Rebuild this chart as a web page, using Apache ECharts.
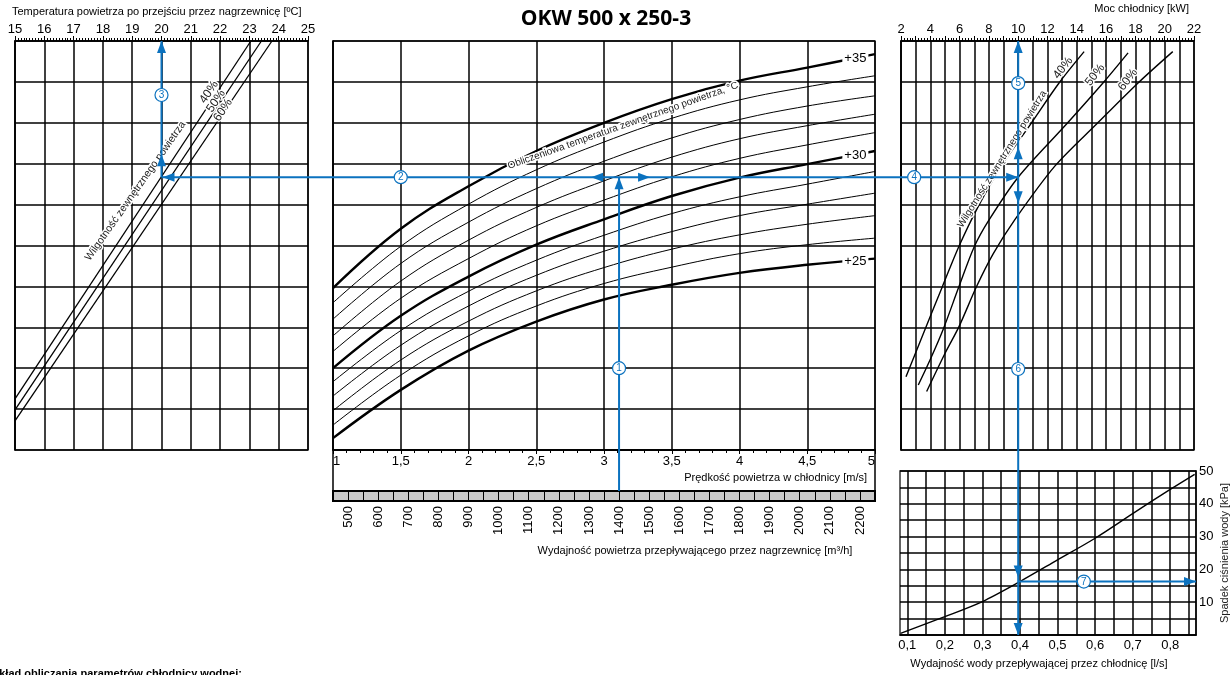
<!DOCTYPE html>
<html><head><meta charset="utf-8">
<script src="https://cdn.jsdelivr.net/npm/echarts@6/dist/echarts.min.js"></script>
<style>html,body{margin:0;padding:0;background:#fff}#c{width:1232px;height:675px}</style>
</head><body><div id="c"></div>
<script>
// ---------------- DATA ----------------
// Left panel: outlet air temperature [°C] vs chart level (0..10 = shared horizontal grid)
const hum40LeftT = [15.00, 23.05], hum40LeftL = [1.25, 10.0];
const hum50LeftT = [15.00, 23.41], hum50LeftL = [0.98, 10.0];
const hum60LeftT = [15.00, 23.77], hum60LeftL = [0.71, 10.0];

// Centre panel: air velocity [m/s] vs chart level, one curve per outside temperature
const velocity = [1, 1.5, 2, 2.5, 3, 3.5, 4, 4.5, 5];
const t25 = [0.29, 1.47, 2.43, 3.14, 3.68, 4.04, 4.33, 4.53, 4.68];
const t26 = [0.61, 1.83, 2.79, 3.52, 4.07, 4.47, 4.80, 5.02, 5.18];
const t27 = [0.96, 2.20, 3.15, 3.89, 4.46, 4.91, 5.26, 5.52, 5.73];
const t28 = [1.32, 2.56, 3.52, 4.27, 4.86, 5.34, 5.73, 6.01, 6.28];
const t29 = [1.67, 2.92, 3.88, 4.64, 5.25, 5.78, 6.19, 6.50, 6.81];
const t30 = [2.00, 3.28, 4.24, 5.02, 5.64, 6.21, 6.66, 6.99, 7.31];
const t31 = [2.41, 3.71, 4.68, 5.48, 6.11, 6.68, 7.13, 7.46, 7.76];
const t32 = [2.79, 4.13, 5.13, 5.93, 6.58, 7.16, 7.61, 7.93, 8.21];
const t33 = [3.20, 4.56, 5.57, 6.39, 7.06, 7.63, 8.08, 8.41, 8.66];
const t34 = [3.60, 4.98, 6.01, 6.85, 7.53, 8.11, 8.56, 8.88, 9.15];
const t35 = [3.96, 5.41, 6.45, 7.31, 8.00, 8.58, 9.03, 9.35, 9.68];
const endLabels = ['+25', '+30', '+35'];
const endLabelLevels = [4.60, 7.21, 9.58];
const velocityLabels = [1, 1.5, 2, 2.5, 3, 3.5, 4, 4.5, 5];

// Air flow strip [m3/h]
const flowLabels = [500,600,700,800,900,1000,1100,1200,1300,1400,1500,1600,1700,1800,1900,2000,2100,2200];

// Right panel: cooler power [kW] vs chart level
const hum40RightP = [2.34, 3.70, 4.83, 5.98, 7.25, 8.85, 10.85, 12.80, 14.50];
const hum40RightL = [1.79, 3.00, 4.00, 5.00, 5.94, 6.94, 7.97, 8.98, 9.74];
const hum50RightP = [3.18, 3.98, 4.89, 5.95, 7.00, 8.00, 10.00, 13.30, 15.80, 17.50];
const hum50RightL = [1.59, 2.20, 2.96, 3.99, 4.97, 5.62, 6.67, 7.97, 8.98, 9.71];
const hum60RightP = [3.75, 5.00, 5.95, 7.15, 8.30, 9.75, 12.50, 15.35, 18.20, 20.55];
const hum60RightL = [1.43, 2.36, 3.01, 3.99, 4.80, 5.62, 6.94, 7.97, 8.98, 9.74];

// Bottom-right panel: water flow [l/s] vs pressure drop [kPa]
const waterFlow = [0.082, 0.2, 0.3, 0.4, 0.5, 0.6, 0.7, 0.8, 0.865];
const pressureDrop = [0.5, 5.6, 10.2, 16.3, 22.9, 29.5, 37.0, 44.4, 49.0];
const waterTicks = [0.1,0.15,0.2,0.25,0.3,0.35,0.4,0.45,0.5,0.55,0.6,0.65,0.7,0.75,0.8,0.85];
const waterLabels = [0.1,0.2,0.3,0.4,0.5,0.6,0.7,0.8];

// Worked example (blue path)
const exFlow = 1400, exLevel = 6.67, exTemp = 20, exPower = 10, exWater = 0.4, exDrop = 16.3;

// ---------------- CHART ----------------
const NUM = "'Liberation Sans', Arial, sans-serif";
const TXT = "'Liberation Sans', Arial, sans-serif";
const BLUE = '#0b72bf';
const zip = (a, b) => a.map((v, i) => [v, b[i]]);
const comma = v => String(v).replace('.', ',');
const gridLine = w => ({show: true, lineStyle: {color: '#000', width: w}});
const axLine = {show: true, onZero: false, lineStyle: {color: '#000', width: 1.5}};

const chart = echarts.init(document.getElementById('c'));

const grids = [
  {left: 15, top: 41, width: 293, height: 409},
  {left: 333, top: 41, width: 542, height: 409},
  {left: 901, top: 41, width: 293, height: 409},
  {left: 900, top: 471, width: 296, height: 164},
  {left: 333, top: 491, width: 542, height: 10, show: true, backgroundColor: '#c9c9c9', borderColor: '#000', borderWidth: 2}
];
grids.slice(0, 4).forEach(g => { g.show = true; g.borderColor = '#333'; g.borderWidth = 1.5; });

const xAxis = [
  {gridIndex: 0, type: 'value', position: 'top', min: 15, max: 25, interval: 1,
   axisLine: axLine, axisTick: {show: true, length: 5, lineStyle: {color: '#000'}},
   minorTick: {show: true, splitNumber: 10, length: 3, lineStyle: {color: '#000'}},
   axisLabel: {color: '#000', fontSize: 13, fontFamily: NUM, margin: 5}, splitLine: gridLine(1.5)},
  {gridIndex: 1, type: 'value', position: 'bottom', min: 1, max: 5, interval: 0.5,
   axisLine: axLine, axisTick: {show: true, length: 4, lineStyle: {color: '#000'}},
   minorTick: {show: true, splitNumber: 5, length: 3, lineStyle: {color: '#000'}},
   axisLabel: {color: '#000', fontSize: 13, fontFamily: NUM, margin: 5, formatter: comma,
               customValues: velocityLabels, alignMinLabel: 'left', alignMaxLabel: 'right'},
   splitLine: gridLine(1.5)},
  {gridIndex: 2, type: 'value', position: 'top', min: 2, max: 22, interval: 1,
   axisLine: axLine, axisTick: {show: true, length: 5, lineStyle: {color: '#000'}},
   minorTick: {show: true, splitNumber: 5, length: 3, lineStyle: {color: '#000'}},
   axisLabel: {color: '#000', fontSize: 13, fontFamily: NUM, margin: 5, formatter: v => (v % 2 === 0 ? String(v) : '')},
   splitLine: gridLine(1.5)},
  {gridIndex: 3, type: 'value', position: 'bottom', min: 0.0806, max: 0.8686,
   axisLine: axLine, axisTick: {show: false, customValues: waterTicks},
   axisLabel: {color: '#000', fontSize: 13, fontFamily: NUM, margin: 4, formatter: comma, customValues: waterLabels},
   splitLine: gridLine(1.5)},
  {gridIndex: 4, type: 'value', position: 'bottom', min: 450, max: 2250, interval: 50,
   axisLine: {show: false, onZero: false}, axisTick: {show: false},
   axisLabel: {color: '#000', fontSize: 13, fontFamily: NUM, margin: 5, rotate: 90, customValues: flowLabels,
               formatter: v => String(v)},
   splitLine: gridLine(1)}
];
const yLevel = i => ({gridIndex: i, type: 'value', min: 0, max: 10, interval: 1,
  axisLine: axLine, axisTick: {show: false}, axisLabel: {show: false}, splitLine: gridLine(1.5)});
const yAxis = [
  yLevel(0), yLevel(1), yLevel(2),
  {gridIndex: 3, type: 'value', position: 'right', min: 0, max: 50, interval: 5,
   axisLine: axLine, axisTick: {show: false},
   axisLabel: {color: '#000', fontSize: 13, fontFamily: NUM, margin: 3, formatter: v => (v % 10 === 0 && v > 0 ? String(v) : '')},
   splitLine: gridLine(1.5),
   name: 'Spadek ciśnienia wody [kPa]', nameLocation: 'middle', nameRotate: 90, nameGap: 23,
   nameTextStyle: {color: '#222', fontSize: 11, fontFamily: TXT}},
  {gridIndex: 4, type: 'value', min: 0, max: 1, show: false}
];

const series = [];
function addLine(i, data, width, extra) {
  series.push(Object.assign({type: 'line', xAxisIndex: i, yAxisIndex: i, data: data, symbol: 'none',
    silent: true, animation: false, lineStyle: {color: '#000', width: width}}, extra || {}));
}
addLine(0, zip(hum40LeftT, hum40LeftL), 1.3);
addLine(0, zip(hum50LeftT, hum50LeftL), 1.3);
addLine(0, zip(hum60LeftT, hum60LeftL), 1.3);

const centreCurves = [t25, t26, t27, t28, t29, t30, t31, t32, t33, t34, t35];
centreCurves.forEach((c, k) => {
  const thickIdx = [0, 5, 10].indexOf(k);
  const extra = {smooth: 0.4};
  if (thickIdx >= 0) {
    extra.markPoint = {symbol: 'circle', symbolSize: 1, itemStyle: {color: 'rgba(0,0,0,0)'}, silent: true,
      data: [{coord: [4.855, endLabelLevels[thickIdx]],
        label: {show: true, position: 'inside', formatter: endLabels[thickIdx], color: '#000', fontSize: 13,
                fontFamily: NUM, backgroundColor: '#fff', padding: [1, 2]}}]};
  }
  addLine(1, zip(velocity, c), thickIdx >= 0 ? 2.4 : 1, extra);
});

addLine(2, zip(hum40RightP, hum40RightL), 1.4, {smooth: 0.3});
addLine(2, zip(hum50RightP, hum50RightL), 1.4, {smooth: 0.3});
addLine(2, zip(hum60RightP, hum60RightL), 1.4, {smooth: 0.3});
addLine(3, zip(waterFlow, pressureDrop), 1.4, {smooth: 0.3});

chart.setOption({animation: false, backgroundColor: '#fff', grid: grids, xAxis: xAxis, yAxis: yAxis, series: series});

// ---------------- ANNOTATIONS ----------------
const P = (i, x, y) => chart.convertToPixel({xAxisIndex: i, yAxisIndex: i}, [x, y]);
const els = [];
function text(x, y, s, opt) {
  opt = opt || {};
  els.push({type: 'text', x: x, y: y, rotation: (opt.rot || 0) * Math.PI / 180, z: 60, silent: true,
    style: {text: s, fill: opt.color || '#000', font: (opt.weight || 'normal') + ' ' + (opt.size || 11) + 'px ' + (opt.family || TXT),
      align: opt.align || 'left', verticalAlign: opt.va || 'middle',
      stroke: opt.halo ? '#fff' : null, lineWidth: opt.halo ? 3 : 0}});
}
function bline(x1, y1, x2, y2) {
  els.push({type: 'line', z: 70, silent: true, shape: {x1, y1, x2, y2}, style: {stroke: BLUE, lineWidth: 2}});
}
function arrow(tx, ty, dir) {
  const L = 12, W = 4.5; let pts;
  if (dir === 'up') pts = [[tx, ty], [tx - W, ty + L], [tx + W, ty + L]];
  if (dir === 'down') pts = [[tx, ty], [tx - W, ty - L], [tx + W, ty - L]];
  if (dir === 'left') pts = [[tx, ty], [tx + L, ty - W], [tx + L, ty + W]];
  if (dir === 'right') pts = [[tx, ty], [tx - L, ty - W], [tx - L, ty + W]];
  els.push({type: 'polygon', z: 72, silent: true, shape: {points: pts}, style: {fill: BLUE}});
}
function badge(x, y, n) {
  els.push({type: 'circle', z: 75, silent: true, shape: {cx: x, cy: y, r: 6.5}, style: {fill: '#fff', stroke: BLUE, lineWidth: 1.2}});
  els.push({type: 'text', z: 76, silent: true, x: x, y: y + 0.5,
    style: {text: String(n), fill: BLUE, font: '10px ' + NUM, align: 'center', verticalAlign: 'middle'}});
}

// static texts
text(12, 12, 'Temperatura powietrza po przejściu przez nagrzewnicę [ºC]', {size: 11});
text(606, 19, 'OKW 500 x 250-3', {size: 21, weight: 'bold', family: "'Open Sans', sans-serif", align: 'center'});
text(1189, 9, 'Moc chłodnicy [kW]', {size: 11, align: 'right'});
text(867, 478, 'Prędkość powietrza w chłodnicy [m/s]', {size: 11, align: 'right'});
text(695, 551, 'Wydajność powietrza przepływającego przez nagrzewnicę [m³/h]', {size: 11, align: 'center'});
text(1039, 664, 'Wydajność wody przepływającej przez chłodnicę [l/s]', {size: 11, align: 'center'});
text(-24, 668, 'Przykład obliczania parametrów chłodnicy wodnej:', {size: 11, weight: 'bold', va: 'top'});

// in-plot texts (placed through the axes)
let q;
q = P(0, 19.11, 6.33); text(q[0], q[1], 'Wilgotność zewnętrznego powietrza', {size: 10.5, rot: 55, align: 'center', halo: true, color: '#222'});
q = P(0, 21.62, 8.75); text(q[0], q[1], '40%', {size: 12, rot: 56, align: 'center', halo: true, color: '#222'});
q = P(0, 21.86, 8.53); text(q[0], q[1], '50%', {size: 12, rot: 56, align: 'center', halo: true, color: '#222'});
q = P(0, 22.10, 8.31); text(q[0], q[1], '60%', {size: 12, rot: 56, align: 'center', halo: true, color: '#222'});
q = P(2, 8.9, 7.11); text(q[0], q[1], 'Wilgotność zewnętrznego powietrza', {size: 10, rot: 58, align: 'center', halo: true, color: '#222'});
q = P(2, 13.06, 9.34); text(q[0], q[1], '40%', {size: 12, rot: 52, align: 'center', halo: true, color: '#222'});
q = P(2, 15.24, 9.17); text(q[0], q[1], '50%', {size: 12, rot: 52, align: 'center', halo: true, color: '#222'});
q = P(2, 17.49, 9.05); text(q[0], q[1], '60%', {size: 12, rot: 52, align: 'center', halo: true, color: '#222'});
q = P(1, 3.14, 7.93); text(q[0], q[1], 'Obliczeniowa temperatura zewnętrznego powietrza, °C', {size: 10, rot: 19.5, align: 'center', halo: true, color: '#222'});

// blue worked example
const xV = P(4, exFlow, 0)[0], stripTop = P(4, exFlow, 1)[1];
const yL = P(1, 1, exLevel)[1];
const xT = P(0, exTemp, 0)[0], topL = P(0, exTemp, 10)[1];
const xP = P(2, exPower, 0)[0], topR = P(2, exPower, 10)[1];
const yD = P(3, exWater, exDrop)[1], botB = P(3, exWater, 0)[1], rightB = P(3, 0.8686, 0)[0];

bline(xV, stripTop, xV, yL);
bline(xT, yL, xP, yL);
bline(xT, yL, xT, topL);
bline(xP, topR, xP, botB);
bline(xP, yD, rightB, yD);

arrow(xV, yL, 'up');
arrow(xV - 28, yL, 'left');
arrow(xV + 31, yL, 'right');
arrow(xT + 1, yL, 'left');
arrow(xT, yL - 23, 'up');
arrow(xT, topL, 'up');
arrow(xP, yL, 'right');
arrow(xP, yL - 30, 'up');
arrow(xP, yL + 26, 'down');
arrow(xP, topR, 'up');
arrow(xP, yD - 4, 'down');
arrow(xP, botB, 'down');
arrow(rightB, yD, 'right');

badge(xV, P(1, 1, 2.0)[1], 1);
q = P(1, 1.5, exLevel); badge(q[0], q[1], 2);
q = P(0, exTemp, 8.68); badge(q[0], q[1], 3);
q = P(2, 2.9, exLevel); badge(q[0], q[1], 4);
q = P(2, exPower, 8.97); badge(q[0], q[1], 5);
q = P(2, exPower, 1.98); badge(q[0], q[1], 6);
q = P(3, 0.57, exDrop); badge(q[0], q[1], 7);

// frame of the velocity scale box under the centre panel
els.push({type: 'rect', z: 5, silent: true, shape: {x: 333, y: 450, width: 542, height: 41}, style: {fill: 'none', stroke: '#000', lineWidth: 1.5}});

chart.setOption({graphic: {elements: els}});
</script></body></html>
